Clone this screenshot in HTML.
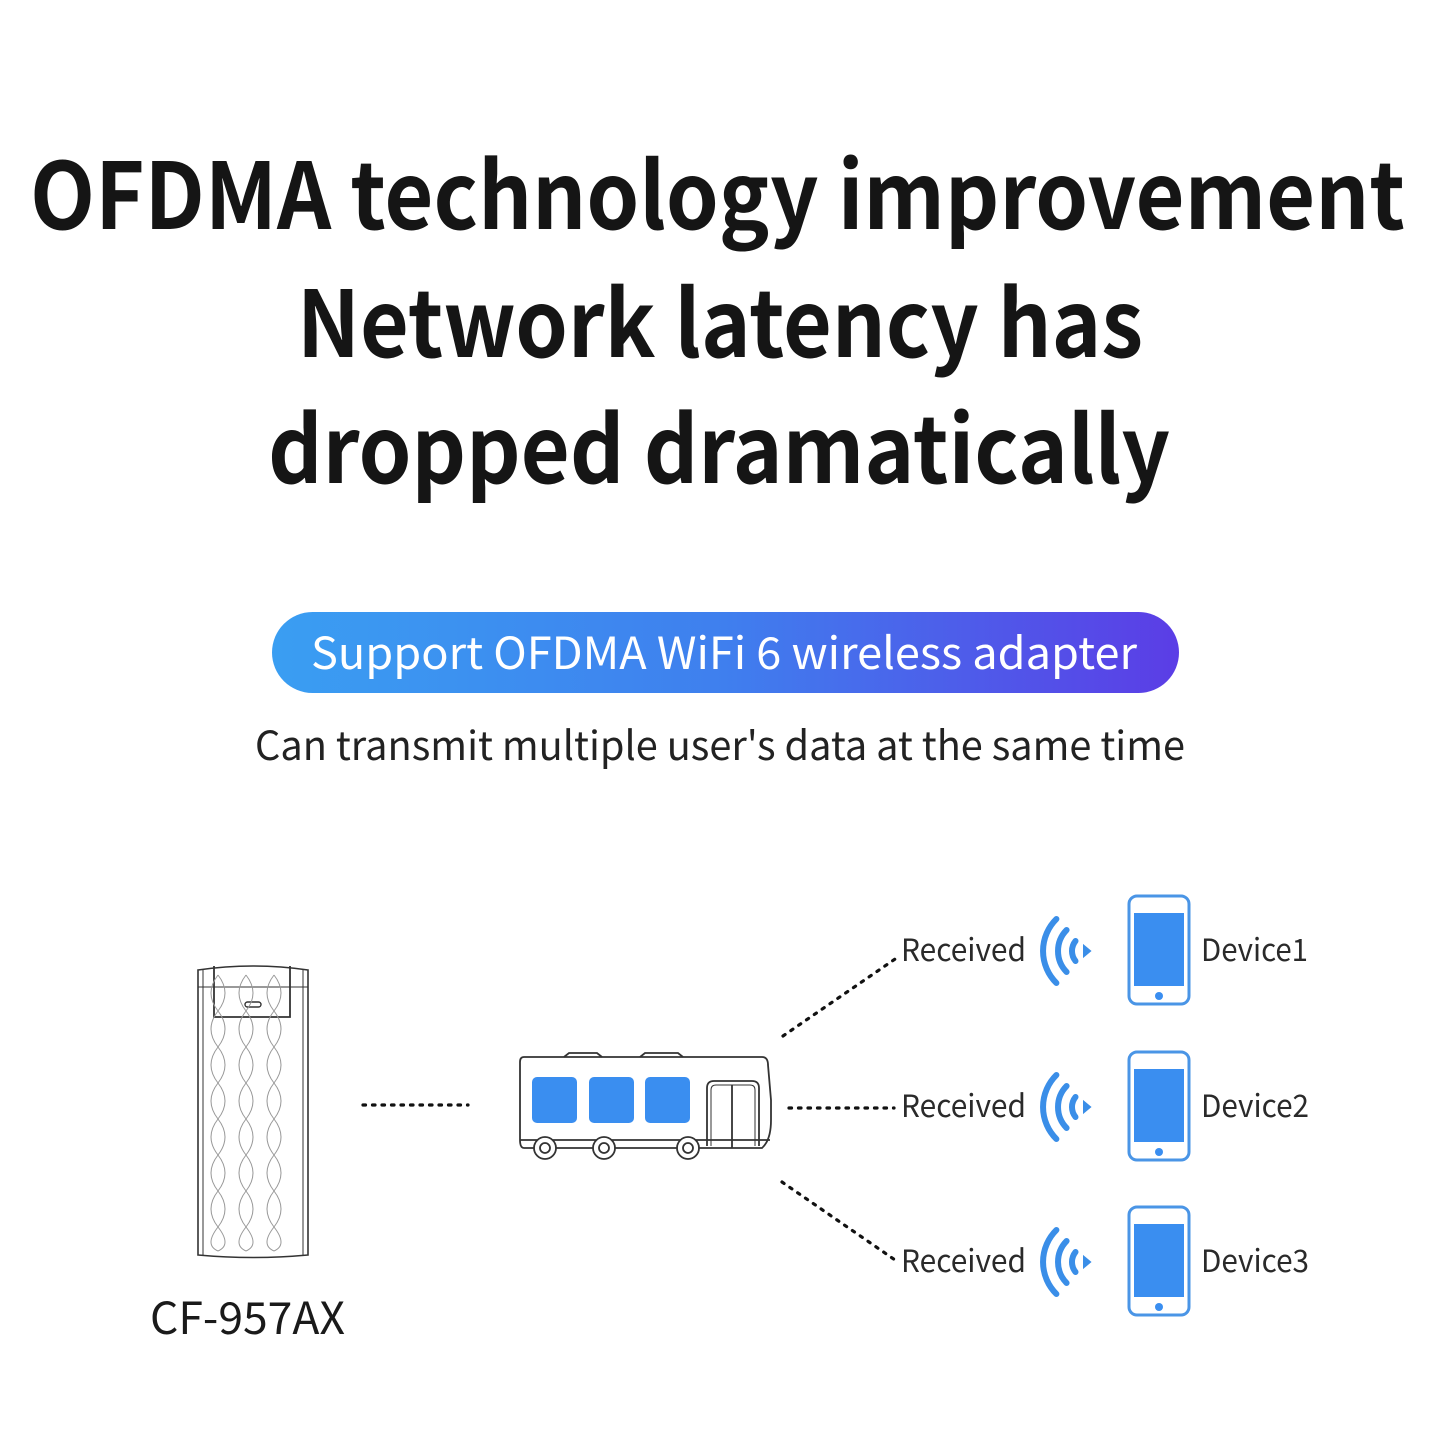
<!DOCTYPE html>
<html><head><meta charset="utf-8"><style>
html,body{margin:0;padding:0;background:#fff;}
svg{display:block}
</style></head><body>
<svg width="1445" height="1445" viewBox="0 0 1445 1445" xmlns="http://www.w3.org/2000/svg">
<defs>
<linearGradient id="g" x1="0" x2="1" y1="0" y2="0">
<stop offset="0" stop-color="#3a9ef2"/><stop offset="0.5" stop-color="#3f7fee"/><stop offset="1" stop-color="#5b3de6"/>
</linearGradient>
<g id="wifi" fill="none" stroke="#3a8ee8" stroke-width="6" stroke-linecap="round">
<path d="M-12.5,-10 A16,16 0 0 0 -12.5,10"/>
<path d="M-21.4,-21 A30,30 0 0 0 -21.4,21"/>
<path d="M-31.6,-32 A45,45 0 0 0 -31.6,32"/>
<path d="M-4,-5 L2,0 L-4,5 Z" fill="#3a8ee8" stroke-width="2"/>
</g>
<g id="phone">
<rect x="1129" y="0" width="60" height="108" rx="8" fill="#fff" stroke="#4a95e6" stroke-width="3"/>
<rect x="1134" y="17" width="50" height="73" fill="#3a8ef0"/>
<circle cx="1159" cy="100" r="4" fill="#3a8ef0"/>
</g>
</defs>
<g font-family="'Noto Sans CJK SC','Liberation Sans',sans-serif" font-weight="bold" fill="#151515" font-size="92">
<text x="30" y="229" textLength="1375" lengthAdjust="spacingAndGlyphs">OFDMA technology improvement</text>
<text x="297" y="357" textLength="846" lengthAdjust="spacingAndGlyphs">Network latency has</text>
<text x="268" y="483" textLength="902" lengthAdjust="spacingAndGlyphs">dropped dramatically</text>
</g>
<rect x="272" y="612" width="907" height="81" rx="40.5" fill="url(#g)"/>
<text x="311" y="669" font-family="'Noto Sans CJK SC','Liberation Sans',sans-serif" font-size="44" fill="#fff" textLength="826" lengthAdjust="spacingAndGlyphs">Support OFDMA WiFi 6 wireless adapter</text>
<text x="255" y="760" font-family="'Noto Sans CJK SC','Liberation Sans',sans-serif" font-size="40" fill="#222" textLength="930" lengthAdjust="spacingAndGlyphs">Can transmit multiple user's data at the same time</text>

<g fill="none" stroke="#333" stroke-width="1.6">
<path d="M198,970 Q253,962 308,970 L308,1255 Q253,1260 198,1255 Z"/>
<line x1="203" y1="970" x2="203" y2="1255" stroke-width="1"/>
<line x1="303" y1="970" x2="303" y2="1255" stroke-width="1"/>
<line x1="198" y1="987" x2="308" y2="987" stroke-width="1"/>
<path d="M214,966 L214,1017 L290,1017 L290,966" stroke-width="1.8"/>
<rect x="245" y="1002" width="16" height="5" rx="2.5" stroke-width="1.4"/>
<g stroke="#999" stroke-width="1">
<path d="M218,975 q-14,18 0,36 q14,18 0,36 q-14,18 0,36 q14,18 0,36 q-14,18 0,36 q14,18 0,36 q-14,18 0,36 q14,18 0,24"/>
<path d="M218,975 q14,18 0,36 q-14,18 0,36 q14,18 0,36 q-14,18 0,36 q14,18 0,36 q-14,18 0,36 q14,18 0,36 q-14,18 0,24"/>
<path d="M246,975 q-14,18 0,36 q14,18 0,36 q-14,18 0,36 q14,18 0,36 q-14,18 0,36 q14,18 0,36 q-14,18 0,36 q14,18 0,24"/>
<path d="M246,975 q14,18 0,36 q-14,18 0,36 q14,18 0,36 q-14,18 0,36 q14,18 0,36 q-14,18 0,36 q14,18 0,36 q-14,18 0,24"/>
<path d="M274,975 q-14,18 0,36 q14,18 0,36 q-14,18 0,36 q14,18 0,36 q-14,18 0,36 q14,18 0,36 q-14,18 0,36 q14,18 0,24"/>
<path d="M274,975 q14,18 0,36 q-14,18 0,36 q14,18 0,36 q-14,18 0,36 q14,18 0,36 q-14,18 0,36 q14,18 0,36 q-14,18 0,24"/>
</g>
</g>
<text x="150" y="1334" font-family="'Noto Sans CJK SC','Liberation Sans',sans-serif" font-size="44" fill="#1a1a1a" textLength="195" lengthAdjust="spacingAndGlyphs">CF-957AX</text>

<g>
<line x1="363" y1="1105" x2="468" y2="1105" stroke="#111" stroke-width="3.2" stroke-dasharray="2.5 7" stroke-linecap="round"/>
<line x1="789" y1="1108" x2="894" y2="1108" stroke="#111" stroke-width="3.2" stroke-dasharray="2.5 7" stroke-linecap="round"/>
<line x1="783" y1="1036" x2="898" y2="957" stroke="#111" stroke-width="3.2" stroke-dasharray="2.5 7" stroke-linecap="round"/>
<line x1="782" y1="1182" x2="898" y2="1262" stroke="#111" stroke-width="3.2" stroke-dasharray="2.5 7" stroke-linecap="round"/>
</g>

<g fill="none" stroke="#333" stroke-width="1.8">
<path d="M564,1057 l5,-4 h28 l5,4 M640,1057 l5,-4 h33 l5,4"/>
<path d="M524,1057 H762 Q768,1057 768,1065 L771,1100 L771,1120 Q771,1140 762,1148 H524 Q520,1148 520,1140 V1062 Q520,1057 524,1057 Z"/>
<line x1="520" y1="1140" x2="770" y2="1140"/>
<path d="M707,1146 V1088 Q707,1081 714,1081 H752 Q759,1081 759,1088 V1146"/>
<path d="M711,1146 V1090 Q711,1085 716,1085 H750 Q755,1085 755,1090 V1146" stroke-width="1"/>
<line x1="732" y1="1085" x2="732" y2="1148"/>
<circle cx="545" cy="1148" r="11" fill="#fff"/><circle cx="545" cy="1148" r="5"/>
<circle cx="604" cy="1148" r="11" fill="#fff"/><circle cx="604" cy="1148" r="5"/>
<circle cx="688" cy="1148" r="11" fill="#fff"/><circle cx="688" cy="1148" r="5"/>
</g>
<g fill="#3a8ef0">
<rect x="532" y="1077" width="45" height="46" rx="5"/>
<rect x="589" y="1077" width="45" height="46" rx="5"/>
<rect x="645" y="1077" width="45" height="46" rx="5"/>
</g>

<g font-family="'Noto Sans CJK SC','Liberation Sans',sans-serif" font-size="31" fill="#2a2a2a">
<text x="901" y="961" textLength="125" lengthAdjust="spacingAndGlyphs">Received</text>
<text x="901" y="1117" textLength="125" lengthAdjust="spacingAndGlyphs">Received</text>
<text x="901" y="1272" textLength="125" lengthAdjust="spacingAndGlyphs">Received</text>
<text x="1201" y="961" textLength="107" lengthAdjust="spacingAndGlyphs">Device1</text>
<text x="1201" y="1117" textLength="108" lengthAdjust="spacingAndGlyphs">Device2</text>
<text x="1201" y="1272" textLength="108" lengthAdjust="spacingAndGlyphs">Device3</text>
</g>
<use href="#wifi" transform="translate(1088,951)"/>
<use href="#wifi" transform="translate(1088,1107)"/>
<use href="#wifi" transform="translate(1088,1262)"/>
<use href="#phone" transform="translate(0,896)"/>
<use href="#phone" transform="translate(0,1052)"/>
<use href="#phone" transform="translate(0,1207)"/>
</svg>
</body></html>
